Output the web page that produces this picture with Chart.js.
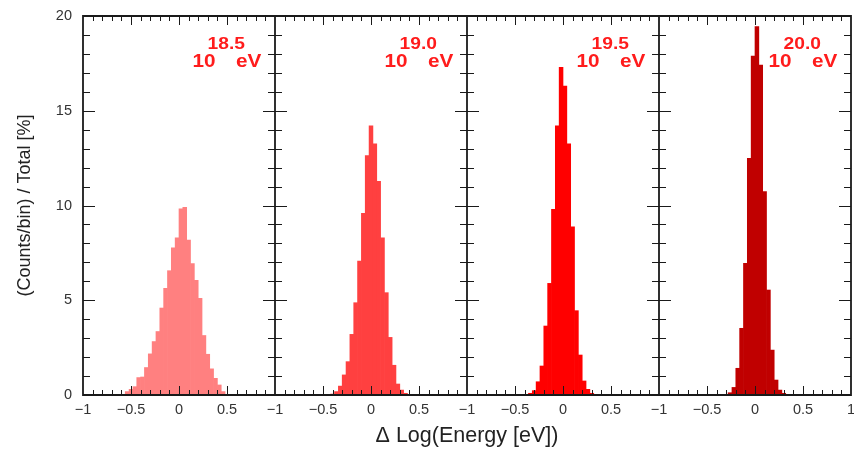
<!DOCTYPE html>
<html><head><meta charset="utf-8">
<script src="https://cdn.jsdelivr.net/npm/chart.js@4.4.1/dist/chart.umd.min.js"></script>
<style>html,body{margin:0;padding:0;background:#fff;} canvas{display:block}</style>
</head><body>
<canvas id="c" width="854" height="452"></canvas>
<script>
// ---- data ----
const energyExponents = ['18.5', '19.0', '19.5', '20.0'];
const panelColors = ['#ff8080', '#ff4040', '#ff0000', '#c00000'];

const binCenters185 = [-0.54,-0.50,-0.46,-0.42,-0.38,-0.34,-0.30,-0.26,-0.22,-0.18,-0.14,-0.10,-0.06,-0.02,0.02,0.06,0.10,0.14,0.18,0.22,0.26,0.30,0.34,0.38,0.42,0.46];
const counts185     = [0.18,0.30,0.44,0.92,0.95,1.45,2.17,2.82,3.35,4.59,5.63,6.56,7.76,8.29,9.82,9.91,8.17,6.93,6.05,5.10,3.14,2.15,1.38,0.88,0.53,0.18];

const binCenters190 = [-0.44,-0.40,-0.36,-0.32,-0.28,-0.24,-0.20,-0.16,-0.12,-0.08,-0.04,0.00,0.04,0.08,0.12,0.16,0.20,0.24,0.28,0.32,0.36,0.40];
const counts190     = [0.03,0.05,0.18,0.47,1.06,1.76,3.20,4.87,7.07,9.59,12.63,14.20,13.25,11.28,8.30,5.40,3.04,1.57,0.58,0.26,0.09,0.03];

const binCenters195 = [-0.34,-0.30,-0.26,-0.22,-0.18,-0.14,-0.10,-0.06,-0.02,0.02,0.06,0.10,0.14,0.18,0.22,0.26,0.30];
const counts195     = [0.09,0.23,0.70,1.53,3.64,5.89,9.80,14.20,17.29,16.30,13.25,8.88,4.45,2.11,0.74,0.30,0.09];

const binCenters200 = [-0.26,-0.22,-0.18,-0.14,-0.10,-0.06,-0.02,0.02,0.06,0.10,0.14,0.18,0.22,0.26,0.30];
const counts200     = [0.12,0.40,1.41,3.52,6.95,12.49,17.89,19.44,17.41,10.73,5.54,2.37,0.79,0.26,0.09];

const xTickLabels = ['\u22121', '\u22120.5', '0', '0.5'];
const xLastLabel = '1';
const yTickValues = [0, 5, 10, 15, 20];

// ---- build ----
const panels = [
  [binCenters185, counts185],
  [binCenters190, counts190],
  [binCenters195, counts195],
  [binCenters200, counts200]
];
const panelSpan = 2; // each panel spans -1..1
const FONT = '"Liberation Sans", Arial, sans-serif';

const datasets = panels.map(([xs, ys], p) => ({
  label: energyExponents[p],
  data: xs.map((c, i) => ({ x: c + p * panelSpan, y: ys[i] })),
  backgroundColor: panelColors[p],
  borderWidth: 0,
  grouped: false,
  barPercentage: 1,
  categoryPercentage: 1
}));

function stretchedText(ctx, text, px, py, align, sx) {
  ctx.save();
  ctx.translate(px, py);
  ctx.scale(sx, 1);
  ctx.textAlign = align;
  ctx.fillText(text, 0, 0);
  ctx.restore();
}

const framePlugin = {
  id: 'frame',
  afterDatasetsDraw(chart) {
    const { ctx, chartArea: a, scales: { x, y } } = chart;
    ctx.save();
    ctx.strokeStyle = '#1a1a1a';
    ctx.lineWidth = 1;
    ctx.beginPath();
    for (let p = 0; p < panels.length; p++) {
      const off = p * panelSpan;
      for (let i = 1; i < 20; i++) {
        const px = Math.round(x.getPixelForValue(off - 1 + i * 0.1)) + 0.5;
        const len = (i % 5 === 0) ? 9 : 5;
        ctx.moveTo(px, a.bottom); ctx.lineTo(px, a.bottom - len);
        ctx.moveTo(px, a.top); ctx.lineTo(px, a.top + len);
      }
    }
    for (let b = 0; b <= panels.length; b++) {
      const px = x.getPixelForValue(b * panelSpan - 1);
      for (let j = 1; j < 20; j++) {
        const py = Math.round(y.getPixelForValue(j)) + 0.5;
        const len = (j % 5 === 0) ? 12 : 7;
        if (b < panels.length) { ctx.moveTo(px, py); ctx.lineTo(px + len, py); }
        if (b > 0) { ctx.moveTo(px, py); ctx.lineTo(px - len, py); }
      }
    }
    ctx.stroke();
    ctx.lineWidth = 1.8;
    ctx.beginPath();
    ctx.rect(a.left, a.top, a.right - a.left, a.bottom - a.top);
    for (let b = 1; b < panels.length; b++) {
      const px = x.getPixelForValue(b * panelSpan - 1);
      ctx.moveTo(px, a.top); ctx.lineTo(px, a.bottom);
    }
    ctx.stroke();

    // energy labels
    ctx.fillStyle = '#ff1c1c';
    ctx.textBaseline = 'middle';
    for (let p = 0; p < panels.length; p++) {
      const off = p * panelSpan;
      ctx.font = 'bold 18.5px ' + FONT;
      stretchedText(ctx, '10', x.getPixelForValue(off + 0.14), y.getPixelForValue(17.59), 'left', 1.12);
      stretchedText(ctx, 'eV', x.getPixelForValue(off + 0.858), y.getPixelForValue(17.59), 'right', 1.12);
      ctx.font = 'bold 16px ' + FONT;
      stretchedText(ctx, energyExponents[p], x.getPixelForValue(off + 0.298), y.getPixelForValue(18.51), 'left', 1.2);
    }
    ctx.restore();
  }
};

new Chart(document.getElementById('c'), {
  type: 'bar',
  data: { datasets },
  options: {
    responsive: false,
    animation: false,
    devicePixelRatio: 1,
    layout: { padding: { top: 16, right: 3, bottom: 0, left: 0 } },
    plugins: { legend: { display: false }, tooltip: { enabled: false } },
    scales: {
      x: {
        type: 'linear',
        offset: false,
        min: -1, max: panels.length * panelSpan - 1,
        grid: { display: false, drawTicks: false, offset: false },
        border: { display: false },
        afterBuildTicks: (s) => {
          const n = panels.length * 4 + 1;
          s.ticks = Array.from({ length: n }, (_, i) => ({ value: -1 + 0.5 * i }));
        },
        afterFit: (s) => { s.height = 57; s.paddingLeft = 0; s.paddingRight = 0; },
        ticks: {
          autoSkip: false, maxRotation: 0, padding: 6,
          color: '#333', font: { family: FONT, size: 14.5 },
          callback: (v) => {
            const idx = Math.round((v + 1) / 0.5);
            if (idx === panels.length * 4) return xLastLabel;
            return xTickLabels[idx % 4];
          }
        },
        title: {
          display: true, text: '\u0394 Log(Energy [eV])',
          color: '#222', font: { family: FONT, size: 21.5 },
          padding: { top: 0, bottom: 3 }
        }
      },
      y: {
        min: 0, max: 20,
        grid: { display: false, drawTicks: false },
        border: { display: false },
        afterBuildTicks: (s) => { s.ticks = yTickValues.map(v => ({ value: v })); },
        afterFit: (s) => { s.width = 83; s.paddingTop = 0; s.paddingBottom = 0; },
        ticks: { padding: 11, color: '#333', font: { family: FONT, size: 14.5 } },
        title: {
          display: true, text: '(Counts/bin) / Total [%]',
          color: '#222', font: { family: FONT, size: 18 },
          padding: { top: 14, bottom: 0 }
        }
      }
    }
  },
  plugins: [framePlugin]
});
</script>
</body></html>
